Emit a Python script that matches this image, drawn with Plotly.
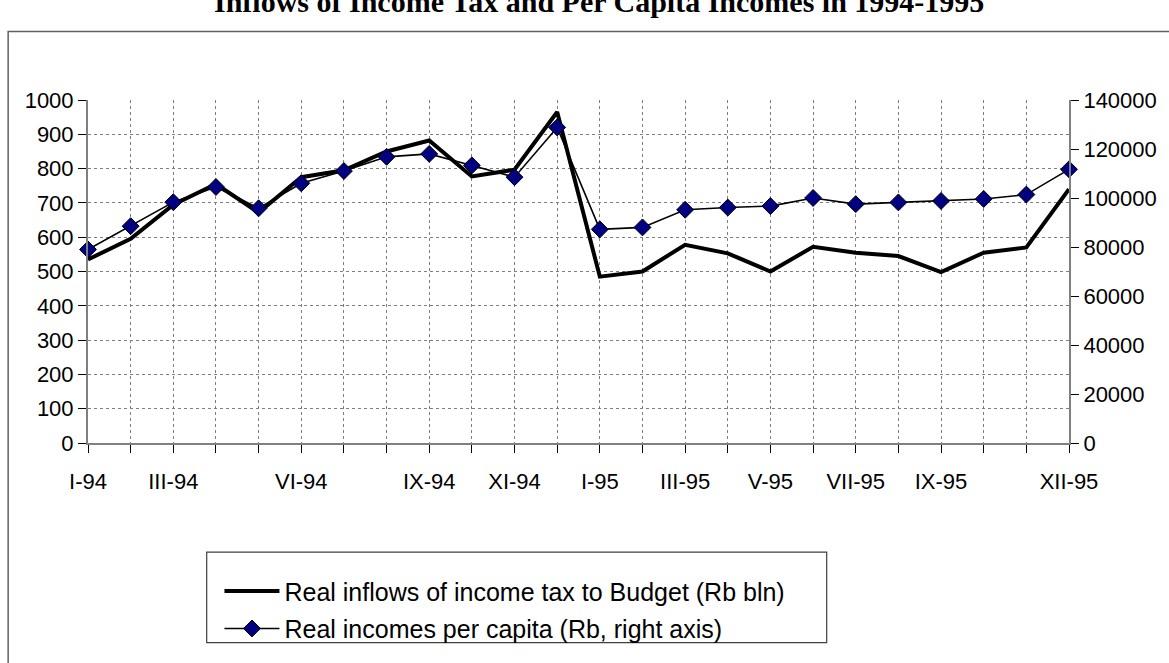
import plotly.graph_objects as go

# Monthly series, January 1994 - December 1995
months = ["I-94", "II-94", "III-94", "IV-94", "V-94", "VI-94", "VII-94", "VIII-94",
          "IX-94", "X-94", "XI-94", "XII-94", "I-95", "II-95", "III-95", "IV-95",
          "V-95", "VI-95", "VII-95", "VIII-95", "IX-95", "X-95", "XI-95", "XII-95"]

tax_inflows = [535, 595, 695, 755, 672, 775, 795, 850, 882, 777, 797, 965,
               485, 500, 578, 553, 500, 572, 555, 545, 498, 555, 570, 740]

incomes_per_capita = [79000, 88500, 98300, 104500, 95800, 106000, 111000, 116800,
                      118000, 113300, 108500, 128800, 87200, 88000, 95200, 96100,
                      96700, 100000, 97500, 98200, 98800, 99600, 101400, 111700]

# Category positions that carry a label on the time axis
label_idx = [0, 2, 5, 8, 10, 12, 14, 16, 18, 20, 23]
label_txt = [months[i] for i in label_idx]

title_text = "Inflows of Income Tax and Per Capita Incomes in 1994-1995"
tax_name = "Real inflows of income tax to Budget (Rb bln)"
inc_name = "Real incomes per capita (Rb, right axis)"

x = list(range(len(months)))

fig = go.Figure()
fig.add_trace(go.Scatter(
    x=x, y=tax_inflows, name=tax_name, mode="lines", legendgroup="tax",
    line=dict(color="black", width=4), cliponaxis=False,
))
fig.add_trace(go.Scatter(
    x=x, y=incomes_per_capita, name=inc_name, mode="lines+markers", yaxis="y2",
    legendgroup="inc",
    line=dict(color="black", width=1.6),
    marker=dict(symbol="diamond", size=13, color="#000080",
                line=dict(color="black", width=1)),
    cliponaxis=False,
))

grid = "#7f7f7f"
axis_col = "#808080"
sans = "Liberation Sans, Arial, sans-serif"
tick_font = dict(family=sans, size=22, color="black")

fig.update_layout(
    width=1169, height=663,
    margin=dict(l=88, r=98, t=100, b=208),
    paper_bgcolor="white", plot_bgcolor="white",
    showlegend=True,
    legend=dict(
        x=0.134, y=-0.365, xanchor="left", yanchor="top",
        bgcolor="rgba(0,0,0,0)", borderwidth=0,
        font=dict(family=sans, size=25, color="black"),
        tracegroupgap=2, itemwidth=55,
    ),
    xaxis=dict(
        range=[0, 23], tickmode="array", tickvals=label_idx, ticktext=label_txt,
        showline=True, linecolor=axis_col, linewidth=2,
        ticks="outside", ticklen=8, tickcolor="black", tickwidth=1,
        showgrid=True, gridcolor=grid, gridwidth=1, griddash="dot",
        minor=dict(tickmode="linear", tick0=0, dtick=1, ticks="outside", ticklen=8,
                   tickcolor="black", showgrid=True, gridcolor=grid, griddash="dot"),
        tickfont=tick_font, zeroline=False, ticklabelstandoff=10,
    ),
    yaxis=dict(
        range=[0, 1000], dtick=100, tick0=0,
        showline=True, linecolor=axis_col, linewidth=2,
        ticks="outside", ticklen=8, tickcolor="black",
        showgrid=True, gridcolor=grid, gridwidth=1, griddash="dot",
        tickfont=tick_font, zeroline=False,
    ),
    yaxis2=dict(
        range=[0, 140000], dtick=20000, tick0=0, overlaying="y", side="right",
        showline=True, linecolor=axis_col, linewidth=2,
        ticks="outside", ticklen=8, tickcolor="black",
        showgrid=False, tickfont=tick_font, zeroline=False,
        tickformat="d",
    ),
    shapes=[
        # outer chart frame
        dict(type="rect", xref="paper", yref="paper",
             x0=-0.0814, x1=1.11, y0=-0.75, y1=1.2,
             line=dict(color="#606060", width=1.5), layer="below"),
        # legend box
        dict(type="rect", xref="paper", yref="paper",
             x0=0.121, x1=0.753, y0=-0.582, y1=-0.318,
             line=dict(color="#404040", width=1.2), fillcolor="white", layer="below"),
    ],
    annotations=[dict(
        text="<b>" + title_text + "</b>", xref="paper", yref="paper",
        x=0.521, y=1.234, xanchor="center", yanchor="bottom", showarrow=False,
        font=dict(family="Liberation Serif, Times New Roman, serif", size=30, color="black"),
    )],
)

fig.write_html("out.html")
